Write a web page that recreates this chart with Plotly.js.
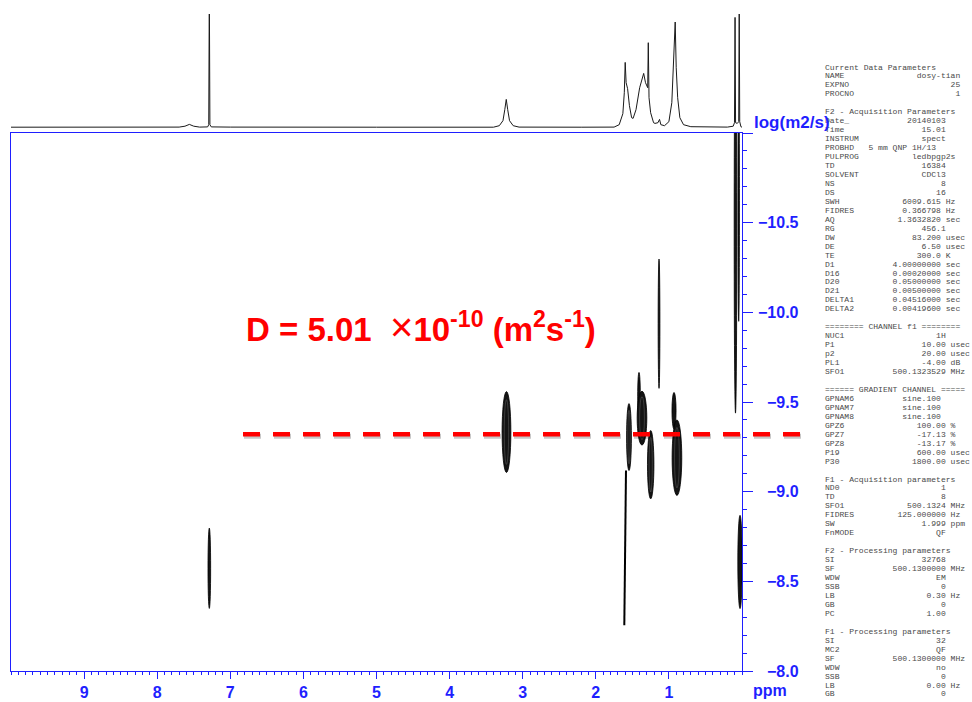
<!DOCTYPE html>
<html><head><meta charset="utf-8">
<script src="https://cdn.plot.ly/plotly-3.0.1.min.js"></script>
<style>html,body{margin:0;padding:0;background:#fff}#chart{width:972px;height:702px}</style>
</head><body><div id="chart"></div>
<script>
// ---- 1D 1H projection (ppm, intensity above baseline) ----
const specPpm = [10.0, 9.0, 8.2, 7.70, 7.62, 7.56, 7.50, 7.42, 7.31, 7.295, 7.287, 7.279, 7.26, 7.0, 5.0, 3.40, 3.32, 3.27, 3.245, 3.225, 3.205, 3.18, 3.13, 3.05, 2.2, 1.75, 1.68, 1.63, 1.61, 1.598, 1.585, 1.565, 1.54, 1.51, 1.49, 1.45, 1.40, 1.36, 1.345, 1.32, 1.29, 1.282, 1.272, 1.25, 1.21, 1.19, 1.15, 1.128, 1.11, 1.06, 1.00, 0.96, 0.93, 0.914, 0.90, 0.88, 0.85, 0.80, 0.70, 0.40, 0.20, 0.12, 0.103, 0.095, 0.088, 0.065, 0.045, 0.038, 0.031, 0.015, 0.0];
const specInt = [0.5, 0.6, 0.5, 0.6, 1.5, 3.3, 1.5, 0.6, 0.8, 3, 140, 3, 0.8, 0.6, 0.5, 0.5, 2, 7, 18, 28.3, 18, 7, 2, 0.6, 0.5, 0.6, 3, 14, 35, 65.3, 45, 39, 22, 10, 9.3, 18, 40, 52, 54.3, 45, 40, 85, 30, 15, 5, 4.3, 5, 8.3, 3, 2, 6, 25, 70, 105.7, 60, 30, 10, 3, 1, 0.6, 0.6, 1.5, 5, 110.3, 5, 4.3, 6, 125, 6, 1, 0.5];

// ---- DOSY contour features: centre ppm, half-width (ppm), log D extent ----
const blobPpm       = [7.287, 3.222, 1.546, 1.409, 1.368, 1.249, 1.135, 0.930, 0.890, 0.089, 0.045, 0.027];
const blobHalfWidth = [0.018, 0.060, 0.033, 0.018, 0.066, 0.044, 0.012, 0.028, 0.066, 0.018, 0.010, 0.030];
const blobLogTop    = [-8.797, -9.558, -9.491, -9.665, -9.560, -9.341, -10.297, -9.553, -9.400, -11.5, -11.3, -8.868];
const blobLogBottom = [-8.349, -9.107, -9.118, -9.400, -9.260, -8.960, -9.576, -9.350, -8.979, -9.438, -9.95, -8.348];
const tailPpm = [1.587, 1.610];
const tailLog = [-9.118, -8.255];

// ---- axes ----
const xTickVals = [1, 2, 3, 4, 5, 6, 7, 8, 9];
const xTickText = ['1', '2', '3', '4', '5', '6', '7', '8', '9'];
const yTickVals = [-11, -10.5, -10, -9.5, -9, -8.5, -8];
const yTickText = ['', '\u221210.5', '\u221210.0', '\u22129.5', '\u22129.0', '\u22128.5', '\u22128.0'];
const diffusionLog = -9.32;   // log10 of D = 5.01e-10 (as drawn)

// ---- acquisition / processing parameter listing ----
const paramRows = [
 'Current Data Parameters',
 ['NAME','dosy-tian','',28], ['EXPNO','25','',28], ['PROCNO','1','',28],
 '',
 'F2 - Acquisition Parameters',
 ['Date_','20140103','',25], ['Time','15.01','',25], ['INSTRUM','spect','',25],
 ['PROBHD','5 mm QNP 1H/13','',23], ['PULPROG','ledbpgp2s','',27], ['TD','16384','',25],
 ['SOLVENT','CDCl3','',25], ['NS','8','',25], ['DS','16','',25],
 ['SWH','6009.615','Hz',24], ['FIDRES','0.366798','Hz',24], ['AQ','1.3632820','sec',24],
 ['RG','456.1','',25], ['DW','83.200','usec',24], ['DE','6.50','usec',24], ['TE','300.0','K',24],
 ['D1','4.00000000','sec',24], ['D16','0.00020000','sec',24], ['D20','0.05000000','sec',24],
 ['D21','0.00500000','sec',24], ['DELTA1','0.04516000','sec',24], ['DELTA2','0.00419600','sec',24],
 '',
 '======== CHANNEL f1 ========',
 ['NUC1','1H','',25], ['P1','10.00','usec',25], ['p2','20.00','usec',25],
 ['PL1','-4.00','dB',25], ['SFO1','500.1323529','MHz',25],
 '',
 '====== GRADIENT CHANNEL =====',
 ['GPNAM6','sine.100','',24], ['GPNAM7','sine.100','',24], ['GPNAM8','sine.100','',24],
 ['GPZ6','100.00','%',25], ['GPZ7','-17.13','%',25], ['GPZ8','-13.17','%',25],
 ['P19','600.00','usec',25], ['P30','1800.00','usec',25],
 '',
 'F1 - Acquisition parameters',
 ['ND0','1','',25], ['TD','8','',25], ['SFO1','500.1324','MHz',25],
 ['FIDRES','125.000000','Hz',25], ['SW','1.999','ppm',25], ['FnMODE','QF','',25],
 '',
 'F2 - Processing parameters',
 ['SI','32768','',25], ['SF','500.1300000','MHz',25], ['WDW','EM','',25], ['SSB','0','',25],
 ['LB','0.30','Hz',25], ['GB','0','',25], ['PC','1.00','',25],
 '',
 'F1 - Processing parameters',
 ['SI','32','',25], ['MC2','QF','',25], ['SF','500.1300000','MHz',25], ['WDW','no','',25],
 ['SSB','0','',25], ['LB','0.00','Hz',25], ['GB','0','',25]
];

// ---- layout helpers ----
const W = 972, H = 702;
const px = v => v / W, py = v => 1 - v / H;
const xDomain = [px(11), px(742)];
const yDomain = [py(671), py(133)];
const y2Domain = [py(133), py(14)];
const yRange = [-8, -11];
const yToPaper = v => yDomain[0] + (v - yRange[0]) / (yRange[1] - yRange[0]) * (yDomain[1] - yDomain[0]);

const BLUE = '#1f1fff';
const NB = '\u00a0';
const fmtRow = r => {
  if (typeof r === 'string') return r.replace(/ /g, NB);
  const [lab, val, unit, end] = r;
  const pad = Math.max(1, end - lab.length - val.length);
  let s = lab + ' '.repeat(pad) + val + (unit ? ' ' + unit : '');
  return s.replace(/ /g, NB);
};

const traces = [
  {x: [], y: [], xaxis: 'x', yaxis: 'y', type: 'scatter', showlegend: false, hoverinfo: 'skip'},
  {x: specPpm, y: specInt, xaxis: 'x', yaxis: 'y2', type: 'scatter', mode: 'lines',
   line: {color: '#1a1a1a', width: 1}, showlegend: false, hoverinfo: 'skip'}
];

const shapes = [];
blobPpm.forEach((p, i) => {
  const hw = blobHalfWidth[i], t = blobLogTop[i], b = blobLogBottom[i];
  shapes.push({type: 'circle', xref: 'x', yref: 'y', x0: p - hw, x1: p + hw, y0: t, y1: b,
    fillcolor: '#141414', line: {color: '#000', width: 0.8}, layer: 'above'});
  if (hw > 0.031) {
    // faint inner contour ring
    const c = (t + b) / 2, h = (b - t) / 2;
    shapes.push({type: 'circle', xref: 'x', yref: 'y', x0: p - hw * 0.5, x1: p + hw * 0.5,
      y0: c - h * 0.8, y1: c + h * 0.8, fillcolor: 'rgba(0,0,0,0)',
      line: {color: 'rgba(255,255,255,0.28)', width: 0.6}, layer: 'above'});
  }
});
shapes.push({type: 'line', xref: 'x', yref: 'y', x0: tailPpm[0], x1: tailPpm[1], y0: tailLog[0], y1: tailLog[1],
  line: {color: '#000', width: 2}});
const yd = yToPaper(diffusionLog);
shapes.push({type: 'line', xref: 'paper', yref: 'paper', x0: px(244), x1: px(804), y0: yd - 2 / H, y1: yd - 2 / H,
  line: {color: 'rgba(0,0,0,0.22)', width: 5, dash: '17px,13px'}});
shapes.push({type: 'line', xref: 'paper', yref: 'paper', x0: px(243), x1: px(803), y0: yd, y1: yd,
  line: {color: '#ff0000', width: 4.5, dash: '17px,13px'}});

const annotations = [];
paramRows.forEach((r, i) => {
  const t = fmtRow(r);
  if (!t) return;
  annotations.push({xref: 'paper', yref: 'paper', x: px(822.5), y: py(67 + i * 8.957), xanchor: 'left', yanchor: 'middle',
    text: t, showarrow: false, font: {family: 'Liberation Mono, DejaVu Sans Mono, monospace', size: 8.05, color: '#4a4a4a'}});
});
yTickVals.forEach((v, i) => {
  if (!yTickText[i]) return;
  annotations.push({xref: 'paper', yref: 'y', x: px(801), y: v, xanchor: 'right', yanchor: 'middle',
    text: yTickText[i], showarrow: false, font: {family: 'Liberation Sans, Arial, sans-serif', size: 16, color: BLUE, weight: 'bold'}});
});
annotations.push({xref: 'paper', yref: 'paper', x: px(752), y: py(122), xanchor: 'left', yanchor: 'middle',
  text: 'log(m2/s)', showarrow: false, font: {family: 'Liberation Sans, Arial, sans-serif', size: 17, color: BLUE, weight: 'bold'}});
annotations.push({xref: 'paper', yref: 'paper', x: px(770), y: py(690), xanchor: 'center', yanchor: 'middle',
  text: 'ppm', showarrow: false, font: {family: 'Liberation Sans, Arial, sans-serif', size: 16, color: BLUE, weight: 'bold'}});
annotations.push({xref: 'paper', yref: 'paper', x: px(244), y: py(327), xanchor: 'left', yanchor: 'middle',
  text: '<b>D = 5.01\u00a0\u00a0</b><span style="font-size:40px">\u00d7</span><b>10<sup>-10</sup>\u00a0(m<sup>2</sup>s<sup>-1</sup>)</b>',
  showarrow: false, font: {family: 'Liberation Sans, Arial, sans-serif', size: 33, color: '#ff0000'}});

const layout = {
  width: W, height: H, margin: {l: 0, r: 0, t: 0, b: 0},
  paper_bgcolor: '#fff', plot_bgcolor: 'rgba(0,0,0,0)', showlegend: false,
  xaxis: {domain: xDomain, range: [10, 0], anchor: 'y', showgrid: false, zeroline: false,
    showline: true, linecolor: BLUE, linewidth: 1, mirror: true,
    tickmode: 'array', tickvals: xTickVals, ticktext: xTickText,
    ticks: 'outside', ticklen: 7, tickcolor: BLUE, tickwidth: 1,
    minor: {ticks: 'outside', ticklen: 3, dtick: 0.1, tick0: 0, tickcolor: BLUE, tickwidth: 1, showgrid: false},
    tickfont: {family: 'Liberation Sans, Arial, sans-serif', size: 16, color: BLUE, weight: 'bold'}},
  yaxis: {domain: yDomain, range: yRange, anchor: 'x', side: 'right', showgrid: false, zeroline: false,
    showline: true, linecolor: BLUE, linewidth: 1, mirror: true,
    tickmode: 'array', tickvals: yTickVals, showticklabels: false,
    ticks: 'outside', ticklen: 10, tickcolor: BLUE, tickwidth: 1,
    minor: {ticks: 'outside', ticklen: 4, dtick: 0.1, tick0: -11, tickcolor: BLUE, tickwidth: 1, showgrid: false}},
  yaxis2: {domain: y2Domain, range: [-5.3, 113.7], anchor: 'x', visible: false, showgrid: false, zeroline: false},
  shapes: shapes, annotations: annotations
};

Plotly.newPlot('chart', traces, layout, {displayModeBar: false, staticPlot: true});
</script></body></html>
